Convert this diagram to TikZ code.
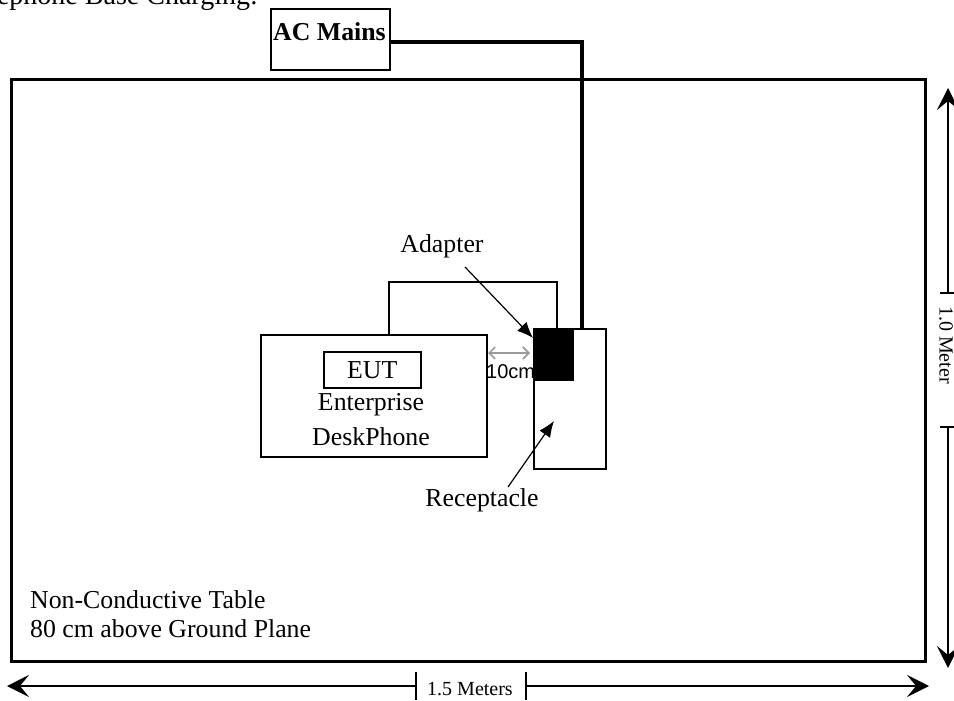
\documentclass[tikz,border=0pt]{standalone}
\usepackage{fontspec}
\setmainfont{Liberation Serif}
\newfontfamily\arialfont{Liberation Sans}
\usetikzlibrary{arrows.meta}
\begin{document}
\begin{tikzpicture}[x=1pt,y=-1pt,
  txt/.style={font=\fontsize{25.8}{29.7}\selectfont, inner sep=0pt},
  dimtxt/.style={font=\fontsize{20}{24}\selectfont, inner sep=0pt},
  boxthin/.style={draw, line width=1.5pt, inner sep=0pt, anchor=north west},
  dimline/.style={line width=1.2pt},
  dimarrow/.style={line width=1.2pt, -{Stealth[length=22pt,width=22pt,inset=9pt]}},
  ptrarrow/.style={line width=1.2pt, -{Latex[length=16pt,width=13pt]}},
  grayarrow/.style={line width=1.6pt, draw={rgb,255:red,155;green,155;blue,155}, {Straight Barb[length=6pt,width=12pt]}-{Straight Barb[length=6pt,width=12pt]}}
]
\useasboundingbox (0,0) rectangle (954,701);

% title (cut off at the page edge, as in the reference)
\node[font=\fontsize{28}{32}\selectfont, inner sep=0pt, anchor=base east] (title) at (258,5) {ephone Base Charging:};

% table
\node[draw, line width=3pt, inner sep=0pt, anchor=north west, minimum width=914pt, minimum height=582pt] (table) at (10,78) {};
\node[txt, anchor=base west] (tab1) at (30,608) {Non-Conductive Table};
\node[txt, anchor=base west] (tab2) at (30,637) {80 cm above Ground Plane};

% AC mains
\node[draw, line width=2pt, inner sep=0pt, anchor=north west, minimum width=119pt, minimum height=61pt] (ac) at (270,8) {};
\node[txt, anchor=base] (acl) at (329.5,41) {\textbf{AC Mains}};

% phone
\node[boxthin, minimum width=226pt, minimum height=122pt] (ph) at (260,334) {};
\node[boxthin, minimum width=97pt, minimum height=36pt] (eut) at (323,351) {};
\node[txt] (eutl) at (eut.center) {EUT};
\node[txt, anchor=base] (ent) at (371,410) {Enterprise};
\node[txt, anchor=base] (desk) at (371,445) {DeskPhone};

% receptacle and adapter
\node[boxthin, minimum width=72pt, minimum height=140pt] (rec) at (533,328) {};
\node[font=\arialfont\fontsize{20}{22}\selectfont, inner sep=0pt, anchor=base west] (cm) at (486,378) {10cm};
\node[fill=black, inner sep=0pt, anchor=north west, minimum width=41pt, minimum height=53pt] (adp) at (533,328) {};

% power cord
\coordinate (pl) at (582,328);
\draw[line width=4pt] ([yshift=-3pt]ac.east) -| (pl);

% phone cable loop
\coordinate (lt) at (389,282);
\draw[line width=1.5pt] (ph.north -| lt) -- (lt) -| ([xshift=3.5pt]adp.north);

% 10 cm arrow
\coordinate (g1) at (488,353);
\coordinate (g2) at (530,353);
\draw[grayarrow] (g1) -- (g2);

% labels with pointers
\node[txt, anchor=base] (adl) at (442,252) {Adapter};
\coordinate (adt) at (465,267);
\draw[ptrarrow] (adt) -- ([yshift=-10pt]adp.north west);
\node[txt, anchor=base] (recl) at (482,506) {Receptacle};
\coordinate (rct) at (508,487);
\coordinate (rch) at (554,421);
\draw[ptrarrow] (rct) -- (rch);

% vertical dimension
\coordinate (vt) at (948,293);
\coordinate (vb) at (948,427);
\coordinate (vtop) at (948,88);
\coordinate (vbot) at (948,668);
\draw[dimarrow] (vt) -- (vtop);
\draw[dimarrow] (vb) -- (vbot);
\draw[dimline] ([xshift=-8pt]vt) -- ([xshift=8pt]vt);
\draw[dimline] ([xshift=-8pt]vb) -- ([xshift=8pt]vb);
\node[dimtxt, rotate=-90, anchor=north] (vl) at (953,345) {1.0 Meter};

% horizontal dimension
\coordinate (hl) at (416,686);
\coordinate (hr) at (526,686);
\coordinate (hleft) at (7,686);
\coordinate (hright) at (929,686);
\draw[dimarrow] (hl) -- (hleft);
\draw[dimarrow] (hr) -- (hright);
\draw[dimline] ([yshift=14pt]hl) -- ([yshift=-14pt]hl);
\draw[dimline] ([yshift=14pt]hr) -- ([yshift=-14pt]hr);
\node[dimtxt, anchor=base] (hlab) at (470,695) {1.5 Meters};
\end{tikzpicture}
\end{document}
